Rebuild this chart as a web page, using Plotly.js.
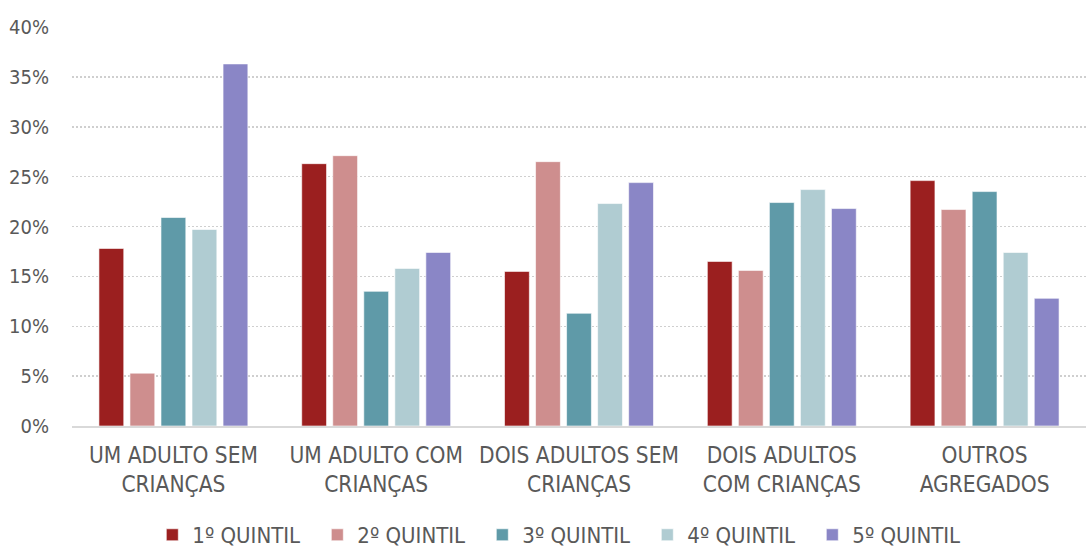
<!DOCTYPE html>
<html>
<head>
<meta charset="utf-8">
<script src="https://cdn.plot.ly/plotly-3.0.1.min.js"></script>
<style>html,body{margin:0;padding:0;background:#fff}#chart{width:1086px;height:547px}</style>
</head>
<body>
<div id="chart"></div>
<script>
const categories = ["UM ADULTO SEM<br>CRIANÇAS", "UM ADULTO COM<br>CRIANÇAS", "DOIS ADULTOS SEM<br>CRIANÇAS", "DOIS ADULTOS<br>COM CRIANÇAS", "OUTROS<br>AGREGADOS"];
const seriesNames = ["1º QUINTIL", "2º QUINTIL", "3º QUINTIL", "4º QUINTIL", "5º QUINTIL"];
const q1 = [17.8, 26.3, 15.5, 16.5, 24.6];
const q2 = [5.3, 27.1, 26.5, 15.6, 21.7];
const q3 = [20.9, 13.5, 11.3, 22.4, 23.5];
const q4 = [19.7, 15.8, 22.3, 23.7, 17.4];
const q5 = [36.3, 17.4, 24.4, 21.8, 12.8];
const tickVals = [0, 5, 10, 15, 20, 25, 30, 35, 40];
const tickText = ["0%", "5%", "10%", "15%", "20%", "25%", "30%", "35%", "40%"];

const colors = ["#9B1F1F", "#CE8E8E", "#5F9AA8", "#B0CCD2", "#8A86C6"];
const allSeries = [q1, q2, q3, q4, q5];
const font = "'DejaVu Sans Condensed', 'Liberation Sans Narrow', sans-serif";

const traces = allSeries.map((vals, i) => ({
  type: "bar",
  name: seriesNames[i],
  x: categories,
  y: vals,
  marker: {color: colors[i], line: {color: "rgba(255,255,255,0.6)", width: 1}},
  hoverinfo: "name+y"
}));

const layout = {
  width: 1086, height: 547,
  margin: {l: 72, r: 0, t: 27, b: 121},
  paper_bgcolor: "#fff", plot_bgcolor: "#fff",
  barmode: "group",
  bargap: 0.235,
  bargroupgap: 0.2,
  font: {family: font, size: 22, color: "#595959"},
  xaxis: {
    showgrid: false, zeroline: false, automargin: false,
    showline: true, linecolor: "#d9d9d9", linewidth: 2,
    ticks: "", ticklabelstandoff: 8,
    tickfont: {family: font, size: 22.5, color: "#595959"}
  },
  yaxis: {
    range: [0, 40], tickvals: tickVals, ticktext: tickText, automargin: false,
    showgrid: true, gridcolor: "#cfcfcf", griddash: "2px,2px", gridwidth: 1.5,
    zeroline: false, showline: false, ticks: "", ticklabelstandoff: 22,
    tickfont: {family: font, size: 20, color: "#595959"}
  },
  legend: {
    orientation: "h", x: 0.486, xanchor: "center",
    yref: "container", y: 0.022, yanchor: "middle",
    font: {family: font, size: 22, color: "#595959"},
    entrywidth: 120, entrywidthmode: "pixels",
    itemwidth: 30, traceorder: "normal"
  },
  showlegend: true
};

Plotly.newPlot("chart", traces, layout, {displayModeBar: false, staticPlot: true});
</script>
</body>
</html>
